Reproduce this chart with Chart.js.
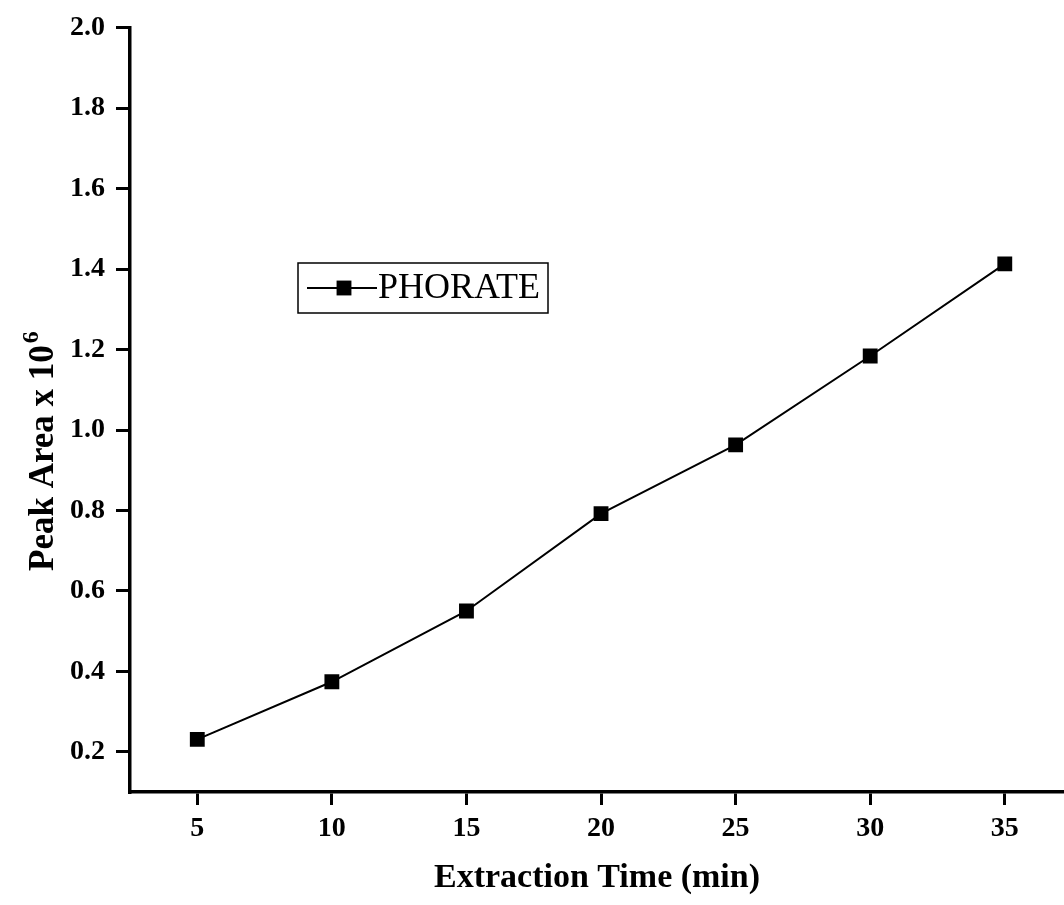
<!DOCTYPE html>
<html>
<head>
<meta charset="utf-8">
<title>Peak Area vs Extraction Time</title>
<script src="https://cdn.jsdelivr.net/npm/chart.js@4.4.1/dist/chart.umd.min.js"></script>
<style>
  html, body { margin: 0; padding: 0; background: #ffffff; }
  #wrap { width: 1064px; height: 905px; position: relative; }
</style>
</head>
<body>
<div id="wrap"><canvas id="chart" width="1064" height="905"></canvas></div>
<script>
// Extraction time (min) and measured peak area (x 10^6)
const extractionTime = [5, 10, 15, 20, 25, 30, 35];
const peakArea = [0.231, 0.374, 0.550, 0.792, 0.963, 1.184, 1.413];
const seriesName = 'PHORATE';

// Tick labels shown on each axis
const xTicks = [5, 10, 15, 20, 25, 30, 35];
const yTicks = [0.2, 0.4, 0.6, 0.8, 1.0, 1.2, 1.4, 1.6, 1.8, 2.0];

const xTitle = 'Extraction Time (min)';
const yTitleMain = 'Peak Area x 10';
const yTitleSup = '6';

const SERIF = '"Liberation Serif", "Times New Roman", serif';

// Rotated y-axis title with a superscript exponent
const yTitlePlugin = {
  id: 'yTitleSup',
  afterDraw(chart) {
    const ctx = chart.ctx;
    ctx.save();
    ctx.fillStyle = '#000';
    ctx.translate(53, 571);
    ctx.rotate(-Math.PI / 2);
    ctx.textAlign = 'left';
    ctx.textBaseline = 'alphabetic';
    ctx.font = 'bold 35px ' + SERIF;
    ctx.fillText(yTitleMain, 0, 0);
    const w = ctx.measureText(yTitleMain).width;
    ctx.font = 'bold 24px ' + SERIF;
    ctx.fillText(yTitleSup, w + 2, -15);
    ctx.restore();
  }
};

// Boxed legend placed inside the plot area, using the dataset's own styles
const boxLegendPlugin = {
  id: 'boxLegend',
  afterDatasetsDraw(chart) {
    const ctx = chart.ctx;
    const ds = chart.data.datasets[0];
    const bx = 298, by = 263, bw = 250, bh = 50;
    const cy = by + bh / 2;
    ctx.save();
    ctx.fillStyle = '#fff';
    ctx.fillRect(bx, by, bw, bh);
    ctx.strokeStyle = '#000';
    ctx.lineWidth = 1.5;
    ctx.strokeRect(bx, by, bw, bh);
    ctx.strokeStyle = ds.borderColor;
    ctx.lineWidth = ds.borderWidth;
    ctx.beginPath();
    ctx.moveTo(bx + 9, cy);
    ctx.lineTo(bx + 79, cy);
    ctx.stroke();
    ctx.fillStyle = ds.pointBackgroundColor;
    const s = ds.pointRadius * Math.SQRT1_2;
    ctx.fillRect(bx + 46 - s, cy - s, 2 * s, 2 * s);
    ctx.fillStyle = '#000';
    ctx.font = '36px ' + SERIF;
    ctx.textAlign = 'left';
    ctx.textBaseline = 'middle';
    ctx.fillText(ds.label, bx + 80, cy + 1);
    ctx.restore();
  }
};

new Chart(document.getElementById('chart'), {
  type: 'line',
  data: {
    datasets: [{
      label: seriesName,
      data: extractionTime.map((t, i) => ({ x: t, y: peakArea[i] })),
      borderColor: '#000',
      borderWidth: 2,
      backgroundColor: '#000',
      pointStyle: 'rect',
      pointRadius: 10.5,
      pointBackgroundColor: '#000',
      pointBorderColor: '#000',
      pointBorderWidth: 0,
      tension: 0,
      fill: false
    }]
  },
  options: {
    responsive: false,
    animation: false,
    devicePixelRatio: 1,
    layout: { autoPadding: false, padding: { left: 0, top: 22, right: 0, bottom: 0 } },
    plugins: {
      legend: { display: false },
      tooltip: { enabled: false }
    },
    scales: {
      x: {
        type: 'linear',
        min: 2.5,
        max: 37.2,
        afterBuildTicks(scale) { scale.ticks = xTicks.map(v => ({ value: v })); },
        afterFit(scale) { scale.height = 113; },
        border: { display: true, color: '#000', width: 3.5 },
        grid: { drawOnChartArea: false, drawTicks: true, tickLength: 13, color: '#000', lineWidth: 3 },
        ticks: {
          color: '#000',
          padding: 7,
          font: { family: SERIF, size: 28, weight: 'bold' },
          callback: v => String(v),
          maxRotation: 0,
          autoSkip: false
        },
        title: {
          display: true,
          text: xTitle,
          color: '#000',
          font: { family: SERIF, size: 34, weight: 'bold' },
          padding: { top: 0, bottom: 6 }
        }
      },
      y: {
        type: 'linear',
        min: 0.1,
        max: 2.0,
        afterBuildTicks(scale) { scale.ticks = yTicks.map(v => ({ value: v })); },
        afterFit(scale) { scale.width = 130; },
        border: { display: true, color: '#000', width: 3.5 },
        grid: { drawOnChartArea: false, drawTicks: true, tickLength: 14, color: '#000', lineWidth: 3 },
        ticks: {
          color: '#000',
          padding: 11,
          font: { family: SERIF, size: 28, weight: 'bold' },
          callback: v => v.toFixed(1),
          autoSkip: false
        },
        title: { display: false }
      }
    }
  },
  plugins: [yTitlePlugin, boxLegendPlugin]
});
</script>
</body>
</html>
